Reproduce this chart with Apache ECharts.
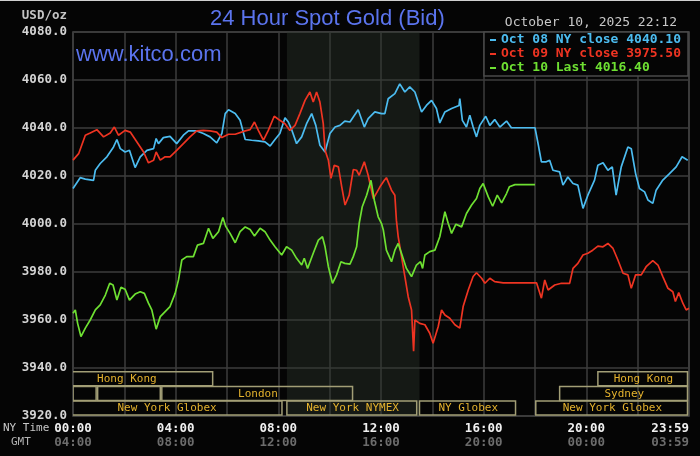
<!DOCTYPE html>
<html>
<head>
<meta charset="utf-8">
<script src="https://cdn.jsdelivr.net/npm/echarts@6/dist/echarts.min.js"></script>
<style>
  html, body { margin: 0; padding: 0; background: #050505; }
  #main { width: 700px; height: 456px; }
</style>
</head>
<body>
<div id="main"></div>
<script>
var myChart = echarts.init(document.getElementById('main'));

// hours since 00:00 NY time, bid price
const oct08 = [
  [0, 4014.8], [0.28, 4019.3], [0.48, 4018.7], [0.8, 4018.2], [0.87, 4022.4], [1.06, 4025.2],
  [1.32, 4028.0], [1.58, 4032.1], [1.71, 4035.2], [1.84, 4031.4], [2.03, 4030.0], [2.2, 4030.7],
  [2.42, 4023.5], [2.62, 4028.0], [2.88, 4030.7], [3.14, 4031.4], [3.24, 4035.6], [3.33, 4033.5],
  [3.52, 4036.0], [3.78, 4036.5], [4.04, 4033.5], [4.3, 4037.0], [4.5, 4038.8], [4.82, 4038.8],
  [5.08, 4037.7], [5.34, 4036.3], [5.6, 4033.8], [5.8, 4037.7], [5.93, 4046.0], [6.06, 4047.6],
  [6.32, 4046.0], [6.51, 4043.2], [6.71, 4035.2], [6.96, 4034.9], [7.22, 4034.6], [7.48, 4034.2],
  [7.68, 4032.5], [7.87, 4035.2], [8.06, 4037.7], [8.26, 4044.3], [8.39, 4042.5], [8.52, 4039.3],
  [8.71, 4033.5], [8.91, 4036.3], [9.1, 4041.8], [9.3, 4046.0], [9.46, 4041.1], [9.62, 4032.8],
  [9.82, 4030.0], [10.01, 4037.7], [10.21, 4040.4], [10.4, 4041.1], [10.59, 4042.9], [10.79, 4042.5],
  [10.92, 4044.6], [11.11, 4047.6], [11.35, 4040.4], [11.5, 4043.9], [11.76, 4046.7], [12.02, 4046.0],
  [12.15, 4046.0], [12.28, 4052.2], [12.54, 4054.3], [12.73, 4058.4], [12.93, 4055.0], [13.12, 4057.1],
  [13.32, 4055.0], [13.58, 4046.7], [13.77, 4049.4], [13.97, 4051.5], [14.16, 4048.1], [14.29, 4042.1],
  [14.49, 4046.7], [14.75, 4048.1], [15.04, 4049.4], [15.07, 4052.2], [15.17, 4043.2], [15.33, 4040.4],
  [15.46, 4045.3], [15.59, 4040.4], [15.72, 4036.3], [15.85, 4041.1], [16.08, 4044.9], [16.24, 4041.1],
  [16.43, 4043.5], [16.63, 4040.4], [16.89, 4042.9], [17.08, 4040.1], [17.41, 4040.1], [18.0, 4040.1],
  [18.12, 4033.5], [18.25, 4025.9], [18.44, 4025.9], [18.57, 4026.6], [18.7, 4022.4], [18.96, 4021.7],
  [19.09, 4016.2], [19.28, 4019.6], [19.48, 4016.9], [19.67, 4016.2], [19.87, 4006.5], [20.06, 4012.0],
  [20.32, 4018.3], [20.45, 4024.5], [20.65, 4025.5], [20.84, 4022.4], [21.01, 4023.8], [21.16, 4012.0],
  [21.36, 4023.8], [21.62, 4032.1], [21.75, 4031.4], [21.92, 4021.0], [22.07, 4014.8], [22.27, 4013.4],
  [22.4, 4010.0], [22.59, 4008.6], [22.72, 4014.1], [22.98, 4018.3], [23.24, 4021.0], [23.5, 4023.8],
  [23.73, 4028.0], [23.95, 4026.6]
];

const oct09 = [
  [0, 4026.6], [0.22, 4029.3], [0.48, 4037.0], [0.67, 4037.9], [0.93, 4039.3], [1.19, 4036.3],
  [1.45, 4037.9], [1.61, 4040.4], [1.77, 4037.0], [2.03, 4039.0], [2.23, 4038.3], [2.49, 4034.2],
  [2.75, 4030.0], [2.94, 4025.5], [3.14, 4026.6], [3.24, 4030.0], [3.4, 4026.6], [3.59, 4028.0],
  [3.78, 4028.0], [4.04, 4030.7], [4.3, 4033.5], [4.56, 4036.3], [4.82, 4038.8], [5.08, 4039.0],
  [5.34, 4038.8], [5.6, 4038.3], [5.8, 4036.0], [6.06, 4037.4], [6.32, 4037.4], [6.71, 4038.8],
  [6.9, 4039.3], [7.07, 4042.5], [7.22, 4039.0], [7.42, 4034.9], [7.61, 4039.0], [7.84, 4044.9],
  [8.06, 4043.2], [8.26, 4041.8], [8.45, 4039.0], [8.65, 4041.1], [8.84, 4046.0], [9.04, 4051.5],
  [9.23, 4055.0], [9.36, 4050.8], [9.49, 4055.0], [9.62, 4050.8], [9.75, 4041.8], [9.82, 4030.7],
  [9.95, 4026.6], [10.05, 4019.0], [10.18, 4024.5], [10.34, 4023.8], [10.47, 4015.5], [10.6, 4007.9],
  [10.76, 4012.0], [10.92, 4022.7], [11.05, 4022.4], [11.15, 4020.3], [11.35, 4025.9], [11.5, 4020.3],
  [11.7, 4010.6], [11.96, 4015.5], [12.13, 4018.2], [12.21, 4019.3], [12.41, 4014.1], [12.54, 4012.0],
  [12.6, 4001.6], [12.67, 3994.7], [12.8, 3986.4], [12.93, 3978.1], [13.06, 3969.7], [13.19, 3964.2],
  [13.27, 3947.0], [13.32, 3960.0], [13.51, 3958.6], [13.71, 3958.0], [13.9, 3954.5], [14.03, 3950.3],
  [14.23, 3957.3], [14.36, 3964.2], [14.49, 3962.1], [14.68, 3960.7], [14.88, 3958.0], [15.07, 3956.6],
  [15.2, 3965.6], [15.4, 3972.5], [15.59, 3978.1], [15.72, 3979.7], [15.92, 3977.4], [16.05, 3975.3],
  [16.24, 3977.4], [16.43, 3976.0], [16.76, 3975.5], [17.15, 3975.5], [18.06, 3975.5], [18.12, 3976.0],
  [18.25, 3969.1], [18.38, 3976.7], [18.51, 3972.5], [18.77, 3974.6], [19.03, 3975.3], [19.35, 3975.3],
  [19.48, 3981.5], [19.67, 3983.6], [19.87, 3987.1], [20.06, 3987.8], [20.25, 3989.1], [20.45, 3990.8],
  [20.65, 3990.5], [20.84, 3991.9], [21.04, 3989.8], [21.23, 3985.0], [21.43, 3979.5], [21.62, 3978.8],
  [21.75, 3973.2], [21.92, 3978.8], [22.14, 3978.8], [22.33, 3982.2], [22.59, 3984.7], [22.79, 3982.9],
  [22.98, 3978.1], [23.18, 3973.2], [23.37, 3971.8], [23.47, 3967.7], [23.6, 3971.4], [23.76, 3967.0],
  [23.89, 3964.2], [24.0, 3964.9]
];

const oct10 = [
  [0, 3962.8], [0.09, 3964.2], [0.18, 3958.6], [0.31, 3953.1], [0.48, 3956.6], [0.67, 3960.0],
  [0.87, 3964.2], [1.06, 3966.3], [1.26, 3970.4], [1.43, 3975.3], [1.56, 3974.6], [1.71, 3968.3],
  [1.87, 3973.6], [2.03, 3972.8], [2.2, 3968.3], [2.42, 3970.8], [2.62, 3971.8], [2.78, 3971.1],
  [2.94, 3967.0], [3.07, 3964.2], [3.24, 3956.2], [3.4, 3961.4], [3.59, 3963.5], [3.78, 3965.6],
  [3.98, 3971.1], [4.11, 3976.7], [4.24, 3985.0], [4.43, 3986.4], [4.69, 3986.4], [4.85, 3991.2],
  [5.08, 3991.9], [5.28, 3998.2], [5.45, 3994.0], [5.67, 3996.8], [5.84, 4002.7], [5.95, 3999.0],
  [6.12, 3996.1], [6.32, 3992.2], [6.51, 3996.8], [6.71, 3998.8], [6.9, 3997.7], [7.07, 3995.0],
  [7.29, 3998.2], [7.48, 3996.8], [7.68, 3993.3], [7.87, 3990.5], [8.13, 3987.1], [8.32, 3990.5],
  [8.52, 3989.1], [8.71, 3985.7], [8.91, 3982.9], [9.01, 3985.7], [9.14, 3981.5], [9.36, 3987.8],
  [9.56, 3993.3], [9.72, 3994.7], [9.82, 3990.5], [9.95, 3982.2], [10.11, 3975.3], [10.27, 3978.8],
  [10.44, 3984.3], [10.59, 3983.6], [10.79, 3983.3], [10.92, 3986.4], [11.05, 3990.5], [11.15, 4000.2],
  [11.27, 4007.2], [11.44, 4012.0], [11.61, 4018.2], [11.74, 4009.9], [11.89, 4003.0], [12.02, 4000.2],
  [12.09, 3997.5], [12.21, 3989.1], [12.41, 3984.3], [12.54, 3989.1], [12.67, 3991.9], [12.84, 3986.4],
  [12.99, 3981.5], [13.19, 3978.1], [13.38, 3982.9], [13.54, 3984.3], [13.62, 3981.5], [13.71, 3987.1],
  [13.9, 3988.5], [14.1, 3989.1], [14.29, 3994.7], [14.49, 4005.1], [14.62, 4000.2], [14.75, 3996.1],
  [14.92, 3999.9], [15.14, 3998.8], [15.33, 4004.4], [15.53, 4007.9], [15.72, 4010.6], [15.85, 4014.8],
  [15.98, 4016.9], [16.18, 4011.3], [16.35, 4007.4], [16.53, 4012.0], [16.7, 4008.8], [16.89, 4012.7],
  [17.0, 4015.5], [17.22, 4016.4], [18.0, 4016.4]
];

const dayLabels = ['Oct 08 NY close', 'Oct 09 NY close', 'Oct 10 Last'];
const closeValues = [4040.10, 3975.50, 4016.40];
const lineColors = ['#4cbcf0', '#ee3422', '#6ee032'];

// market sessions: [start hour, end hour, row, name]
const sessions = [
  [-1.3, 5.5, 0, 'Hong Kong'],
  [0, 0.96, 1, ''],
  [0.96, 3.46, 1, ''],
  [3.46, 10.95, 1, 'London'],
  [-0.87, 8.2, 2, 'New York Globex'],
  [8.333, 13.45, 2, 'New York NYMEX'],
  [13.5, 17.3, 2, 'NY Globex'],
  [18.03, 24, 2, 'New York Globex'],
  [18.96, 24, 1, 'Sydney'],
  [20.45, 24, 0, 'Hong Kong']
];
const nymexHours = [8.333, 13.5];

const mono = 'DejaVu Sans Mono';

function pad(n) { return (n < 10 ? '0' : '') + n; }

const seriesNames = dayLabels.map((d, i) => d + ' ' + closeValues[i].toFixed(2));
const dataSets = [oct08, oct09, oct10];

const lineSeries = dataSets.map((d, i) => {
  return {
    name: seriesNames[i],
    type: 'line',
    data: d,
    showSymbol: false,
    z: 3,
    lineStyle: { color: lineColors[i], width: 1.7 },
    itemStyle: { color: lineColors[i] },
    animation: false
  };
});

option = {
  backgroundColor: '#050505',
  animation: false,
  grid: {
    left: 73, right: 11, top: 32, bottom: 40,
    show: true, borderColor: '#4a4a4a', borderWidth: 1.5
  },
  legend: {
    orient: 'vertical',
    left: 484, top: 32,
    backgroundColor: '#050505',
    borderColor: '#4a4a4a', borderWidth: 1.5,
    padding: [1, 7, 1, 6],
    itemGap: 0,
    itemWidth: 6, itemHeight: 2,
    icon: 'rect',
    selectedMode: false,
    textStyle: { fontFamily: mono, fontWeight: 'bold', fontSize: 13, lineHeight: 14 },
    data: seriesNames.map((n, i) => ({ name: n, textStyle: { color: lineColors[i] } }))
  },
  xAxis: {
    type: 'value', min: 0, max: 24, interval: 2,
    axisLine: { show: false }, axisTick: { show: false },
    splitLine: { lineStyle: { color: '#3c3c3c', width: 1.5 } },
    axisLabel: {
      margin: 6,
      alignMaxLabel: 'right',
      formatter: function (v) {
        if (v % 4 !== 0) return '';
        var ny = v === 24 ? '23:59' : pad(v) + ':00';
        var gmt = v === 24 ? '03:59' : pad((v + 4) % 24) + ':00';
        return '{a|' + ny + '}\n{b|' + gmt + '}';
      },
      rich: {
        a: { fontFamily: mono, fontWeight: 'bold', fontSize: 12.5, color: '#f0f0f0', lineHeight: 14 },
        b: { fontFamily: mono, fontWeight: 'bold', fontSize: 12.5, color: '#6c6c6c', lineHeight: 14 }
      }
    }
  },
  yAxis: {
    type: 'value', min: 3920, max: 4080, interval: 20,
    axisLine: { show: false }, axisTick: { show: false },
    splitLine: { lineStyle: { color: '#3c3c3c', width: 1.5 } },
    axisLabel: {
      margin: 6,
      fontFamily: mono, fontWeight: 'bold', fontSize: 12.5, color: '#d4d4d4',
      formatter: function (v) { return v.toFixed(1); }
    }
  },
  graphic: [
    { type: 'line', shape: { x1: 0, y1: 0.5, x2: 700, y2: 0.5 }, style: { stroke: '#d0d0d0', lineWidth: 1 } },
    { type: 'text', left: 210, top: 8, style: { text: '24 Hour Spot Gold (Bid)', font: '22px "Liberation Sans"', fill: '#5b74ee' } },
    { type: 'text', left: 76, top: 44, z: 10, style: { text: 'www.kitco.com', font: '22px "Liberation Sans"', fill: '#5b74ee' } },
    { type: 'text', right: 23, top: 16, style: { text: 'October 10, 2025 22:12', font: '13px "DejaVu Sans Mono"', fill: '#c8c8c8' } },
    { type: 'text', right: 633, top: 9, style: { text: 'USD/oz', font: 'bold 12.5px "DejaVu Sans Mono"', fill: '#c4c4c4' } },
    { type: 'text', left: 3, top: 423, style: { text: 'NY Time', font: '11px "DejaVu Sans Mono"', fill: '#c8c8c8' } },
    { type: 'text', left: 11, top: 437, style: { text: 'GMT', font: '11px "DejaVu Sans Mono"', fill: '#b4b4b4' } }
  ],
  series: [
    {
      name: 'sessions',
      type: 'custom',
      clip: true,
      z: 2,
      data: sessions.map((s) => [s[0], s[1], s[2]]),
      renderItem: function (params, api) {
        var s = sessions[params.dataIndex];
        var top = 3938.4 - s[2] * 6.1;
        var p1 = api.coord([s[0], top]);
        var p2 = api.coord([s[1], top - 5.8]);
        return {
          type: 'group',
          children: [
            {
              type: 'rect',
              shape: { x: p1[0], y: p1[1], width: p2[0] - p1[0] - 1.5, height: p2[1] - p1[1] },
              style: { fill: 'none', stroke: '#a29e76', lineWidth: 1.5 }
            },
            {
              type: 'text',
              x: (p1[0] + p2[0]) / 2, y: (p1[1] + p2[1]) / 2 + 0.5,
              style: {
                text: s[3], fill: '#e4b22e', font: '11px "DejaVu Sans Mono"',
                align: 'center', verticalAlign: 'middle'
              }
            }
          ]
        };
      },
      markArea: {
        silent: true,
        itemStyle: { color: 'rgba(46,56,46,0.42)' },
        data: [[{ xAxis: nymexHours[0] }, { xAxis: nymexHours[1] }]]
      }
    }
  ].concat(lineSeries)
};

myChart.setOption(option);
</script>
</body>
</html>
